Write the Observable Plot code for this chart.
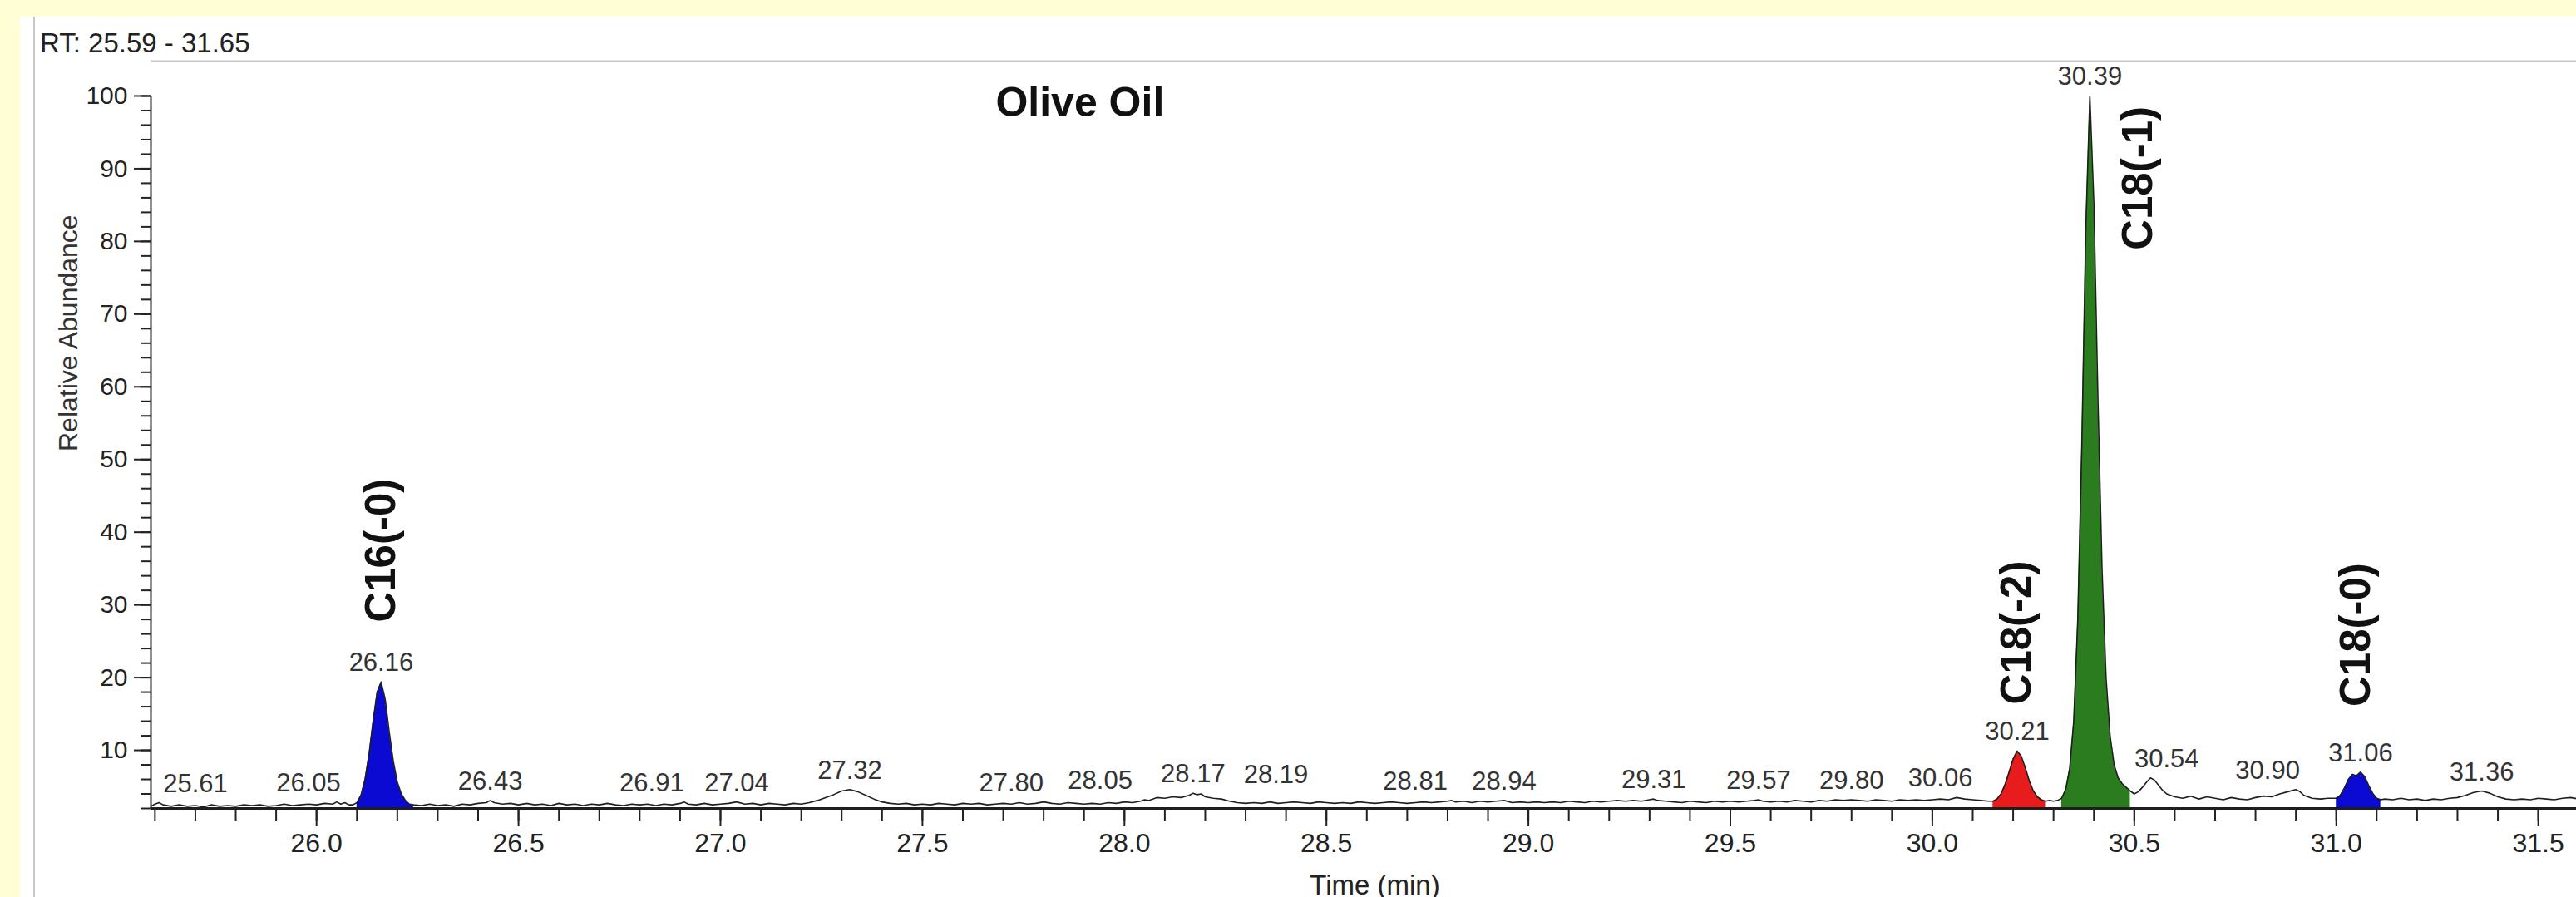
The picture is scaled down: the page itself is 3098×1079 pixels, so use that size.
<!DOCTYPE html>
<html>
<head>
<meta charset="utf-8">
<script src="https://cdn.jsdelivr.net/npm/d3@7"></script>
<script src="https://cdn.jsdelivr.net/npm/@observablehq/plot@0.6"></script>
<style>
  html, body { margin: 0; padding: 0; width: 3098px; height: 1079px; overflow: hidden; background: #fffed4; }
  #panel { position: absolute; left: 24px; top: 20px; right: 0; bottom: 0; background: #ffffff; }
  #panel .edge { position: absolute; left: 16px; top: 0; bottom: 0; border-left: 2px solid #c8c8c8; }
  #rt { position: absolute; left: 48px; top: 35px; font: 33px "Liberation Sans", Arial, sans-serif; line-height: 33px; color: #222; white-space: nowrap; }
  #chart { position: absolute; left: 0; top: 73px; }
</style>
</head>
<body>
<div id="panel"><div class="edge"></div></div>
<div id="rt">RT: 25.59 - 31.65</div>
<div id="chart"></div>
<script>
// Total ion chromatogram of the olive oil run: [retention time (min), relative abundance (%)]
const trace = [
  [25.59,2.3],[25.60,2.6],[25.61,2.8],[25.62,2.5],[25.64,2.3],[25.66,2.5],[25.68,2.3],[25.70,2.4],
  [25.72,2.2],[25.74,2.5],[25.76,2.3],[25.78,2.4],[25.80,2.3],[25.82,2.5],[25.84,2.4],[25.86,2.5],
  [25.88,2.3],[25.90,2.4],[25.92,2.6],[25.94,2.4],[25.96,2.5],[25.98,2.6],[26.00,2.5],[26.02,2.7],
  [26.04,2.6],[26.05,2.9],[26.06,2.6],[26.07,2.8],[26.08,2.5],[26.09,2.5],
  [26.10,2.8],[26.11,3.8],[26.12,6.0],[26.13,9.5],[26.14,14.0],[26.15,18.0],[26.16,19.4],[26.17,17.0],
  [26.18,12.5],[26.19,8.5],[26.20,5.6],[26.21,4.0],[26.22,3.1],[26.23,2.6],[26.24,2.5],
  [26.26,2.4],[26.28,2.6],[26.30,2.4],[26.32,2.5],[26.34,2.3],[26.36,2.6],[26.38,2.5],[26.40,2.7],
  [26.42,2.8],[26.43,3.1],[26.44,2.8],[26.46,2.6],[26.48,2.7],[26.50,2.5],[26.52,2.7],[26.54,2.5],
  [26.56,2.6],[26.58,2.4],[26.60,2.7],[26.62,2.5],[26.64,2.6],[26.66,2.4],[26.68,2.6],[26.70,2.5],
  [26.72,2.7],[26.74,2.5],[26.76,2.4],[26.78,2.6],[26.80,2.5],[26.82,2.6],[26.84,2.4],[26.86,2.6],
  [26.88,2.5],[26.90,2.7],[26.91,2.9],[26.92,2.6],[26.94,2.5],[26.96,2.7],[26.98,2.5],[27.00,2.6],
  [27.02,2.7],[27.04,2.9],[27.06,2.6],[27.08,2.7],[27.10,2.5],[27.12,2.7],[27.14,2.6],[27.16,2.5],
  [27.18,2.7],[27.20,2.6],[27.22,2.8],[27.24,3.1],[27.26,3.5],[27.28,3.9],[27.30,4.4],[27.32,4.6],
  [27.34,4.3],[27.36,3.8],[27.38,3.3],[27.40,2.9],[27.42,2.7],[27.44,2.6],[27.46,2.7],[27.48,2.5],
  [27.50,2.6],[27.52,2.5],[27.54,2.7],[27.56,2.6],[27.58,2.5],[27.60,2.7],[27.62,2.6],[27.64,2.7],
  [27.66,2.5],[27.68,2.6],[27.70,2.7],[27.72,2.6],[27.74,2.8],[27.76,2.6],[27.78,2.7],[27.80,2.9],
  [27.82,2.7],[27.84,2.6],[27.86,2.8],[27.88,2.7],[27.90,2.6],[27.92,2.7],[27.94,2.6],[27.96,2.8],
  [27.98,2.7],[28.00,2.9],[28.02,2.8],[28.04,3.0],[28.05,3.2],[28.06,3.1],[28.08,3.5],[28.10,3.4],
  [28.12,3.6],[28.14,3.5],[28.16,3.8],[28.17,4.1],[28.18,3.9],[28.19,4.0],[28.20,3.6],[28.22,3.4],
  [28.24,3.3],[28.26,3.0],[28.28,2.8],[28.30,2.7],[28.32,2.8],[28.34,2.7],[28.36,2.9],[28.38,2.7],
  [28.40,2.8],[28.42,2.9],[28.44,2.8],[28.46,2.7],[28.48,2.9],[28.50,2.8],[28.52,2.7],[28.54,2.8],
  [28.56,2.7],[28.58,2.9],[28.60,2.8],[28.62,2.7],[28.64,2.8],[28.66,2.9],[28.68,2.8],[28.70,2.7],
  [28.72,2.8],[28.74,2.9],[28.76,2.8],[28.78,2.9],[28.80,3.0],[28.81,3.1],[28.82,2.9],[28.84,3.0],
  [28.86,2.8],[28.88,3.0],[28.90,2.9],[28.92,3.0],[28.94,3.1],[28.96,2.8],[28.98,2.9],[29.00,2.8],
  [29.02,2.9],[29.04,2.8],[29.06,2.9],[29.08,2.8],[29.10,3.0],[29.12,2.9],[29.14,2.8],[29.16,3.0],
  [29.18,2.9],[29.20,3.0],[29.22,3.1],[29.24,3.0],[29.26,3.1],[29.28,3.0],[29.30,3.2],[29.31,3.3],
  [29.32,3.1],[29.34,3.0],[29.36,2.9],[29.38,2.8],[29.40,3.0],[29.42,2.9],[29.44,2.8],[29.46,3.0],
  [29.48,2.9],[29.50,3.0],[29.52,2.9],[29.54,3.0],[29.56,3.1],[29.57,3.2],[29.58,3.0],[29.60,2.9],
  [29.62,3.0],[29.64,2.9],[29.66,3.1],[29.68,3.0],[29.70,2.9],[29.72,3.1],[29.74,3.0],[29.76,3.2],
  [29.78,3.1],[29.80,3.2],[29.82,3.1],[29.84,3.0],[29.86,3.2],[29.88,3.1],[29.90,3.0],[29.92,3.2],
  [29.94,3.1],[29.96,3.2],[29.98,3.1],[30.00,3.2],[30.02,3.3],[30.04,3.2],[30.06,3.5],[30.08,3.3],
  [30.10,3.2],[30.12,3.1],[30.14,3.0],
  [30.15,3.0],[30.16,3.3],[30.17,4.0],[30.18,5.3],[30.19,7.0],[30.20,8.8],[30.21,9.9],[30.22,9.2],
  [30.23,7.6],[30.24,5.8],[30.25,4.4],[30.26,3.6],[30.27,3.2],[30.28,3.0],[30.29,3.1],[30.30,3.0],
  [30.31,3.1],[30.32,3.4],[30.33,4.6],[30.34,7.5],[30.35,14.0],[30.36,28.0],[30.37,52.0],[30.38,82.0],
  [30.39,100.0],[30.40,85.0],[30.41,58.0],[30.42,35.0],[30.43,20.0],[30.44,12.0],[30.45,8.0],[30.46,6.2],
  [30.47,5.4],[30.48,4.9],[30.49,4.4],[30.50,4.0],
  [30.51,4.3],[30.52,4.9],[30.53,5.6],[30.54,6.2],[30.55,5.9],[30.56,5.2],[30.57,4.5],[30.58,4.0],
  [30.60,3.6],[30.62,3.4],[30.64,3.7],[30.66,3.3],[30.68,3.6],[30.70,3.4],[30.72,3.2],[30.74,3.5],
  [30.76,3.3],[30.78,3.2],[30.80,3.5],[30.82,3.7],[30.84,3.6],[30.86,4.0],[30.88,4.3],[30.90,4.6],
  [30.91,4.3],[30.92,3.8],[30.94,3.4],[30.96,3.3],[30.98,3.4],
  [31.00,3.4],[31.01,3.8],[31.02,4.8],[31.03,6.0],[31.04,6.7],[31.05,6.5],[31.06,7.0],[31.07,6.4],
  [31.08,5.2],[31.09,4.1],[31.10,3.4],[31.11,3.2],
  [31.12,3.3],[31.14,3.2],[31.16,3.4],[31.18,3.2],[31.20,3.3],[31.22,3.1],[31.24,3.3],[31.26,3.2],
  [31.28,3.4],[31.30,3.5],[31.32,3.8],[31.34,4.2],[31.36,4.4],[31.38,4.1],[31.40,3.6],[31.42,3.3],
  [31.44,3.2],[31.46,3.3],[31.48,3.2],[31.50,3.4],[31.52,3.3],[31.54,3.2],[31.56,3.4],[31.58,3.5],
  [31.60,3.3],[31.62,3.6],[31.64,3.4],[31.65,3.5]
];

// Identified fatty acid peaks and their integration windows (min)
const peakNames = ["C16(-0)", "C18(-2)", "C18(-1)", "C18(-0)"];
const peakRT    = [26.16, 30.21, 30.39, 31.06];
const peakStart = [26.10, 30.15, 30.32, 31.00];
const peakEnd   = [26.24, 30.28, 30.49, 31.11];

// Retention times annotated on the trace
const labelledRT = [25.61, 26.05, 26.16, 26.43, 26.91, 27.04, 27.32, 27.80, 28.05, 28.17, 28.19,
                    28.81, 28.94, 29.31, 29.57, 29.80, 30.06, 30.21, 30.39, 30.54, 30.90, 31.06, 31.36];

// Axis ticks
const xMajorTicks = [26.0, 26.5, 27.0, 27.5, 28.0, 28.5, 29.0, 29.5, 30.0, 30.5, 31.0, 31.5];
const yMajorTicks = [10, 20, 30, 40, 50, 60, 70, 80, 90, 100];

const sampleName = "Olive Oil";
const rtRange = [25.59, 31.65];

// ---------------------------------------------------------------
const pts = trace.map(([t, y]) => ({t, y}));
const abundanceAt = new Map(pts.map(d => [d.t.toFixed(2), d.y]));

const fills = peakNames.flatMap((name, i) =>
  pts.filter(d => d.t >= peakStart[i] - 1e-9 && d.t <= peakEnd[i] + 1e-9).map(d => ({...d, name})));

// Label shifts (min) where the data-system moved a label clear of its neighbours
const labelShift = {"25.61": 0.09, "26.05": -0.07, "26.91": -0.08, "27.80": -0.08, "28.05": -0.11,
                    "28.19": 0.185, "28.81": -0.09, "30.06": -0.04, "30.54": 0.04, "30.90": -0.07};
const rtLabels = labelledRT.map(rt => {
  const key = rt.toFixed(2);
  return {x: rt + (labelShift[key] || 0), y: abundanceAt.get(key), text: key};
});

// Compound names: placed beside their peaks (x in min, y = abundance where the text starts)
const nameAnchors = [[26.16, 27.6], [30.21, 16.3], [30.51, 78.8], [31.05, 16.0]];
const names = peakNames.map((text, i) => ({text, x: nameAnchors[i][0], y: nameAnchors[i][1]}));

const yBase = 2, yTop = 104.8;
const font = "'Liberation Sans', Arial, sans-serif";

const chart = Plot.plot({
  width: 3125,
  height: 1006,
  marginLeft: 181,
  marginRight: 0,
  marginTop: 0,
  marginBottom: 107,
  x: {domain: rtRange},
  y: {domain: [yBase, yTop]},
  color: {domain: peakNames, range: ["#0a0ad2", "#e81c1c", "#2b7c1f", "#0a0ad2"]},
  style: {background: "transparent", maxWidth: "none", overflow: "visible", fontFamily: font, color: "#222"},
  marks: [
    Plot.ruleY([yTop], {stroke: "#c8c8c8", strokeWidth: 2}),
    Plot.areaY(fills, {x: "t", y: "y", y1: yBase, z: "name", fill: "name"}),
    Plot.line(pts, {x: "t", y: "y", stroke: "#1e1e1e", strokeWidth: 1.6}),
    // axes
    Plot.axisX({ticks: d3.range(256, 317).map(d => d / 10), tickSize: 15, tickFormat: () => "", label: null, strokeWidth: 2}),
    Plot.axisX({ticks: xMajorTicks, tickSize: 22, tickPadding: 8, tickFormat: d3.format(".1f"), fontSize: 32, label: null, strokeWidth: 2}),
    Plot.axisY({ticks: d3.range(2, 101, 2), tickSize: 12, tickFormat: () => "", label: null, strokeWidth: 2}),
    Plot.axisY({ticks: yMajorTicks, tickSize: 20, tickPadding: 8, fontSize: 30, label: null, strokeWidth: 2}),
    Plot.ruleY([yBase], {stroke: "#1e1e1e", strokeWidth: 3}),
    Plot.ruleX([rtRange[0]], {y1: yBase, y2: 100, stroke: "#1e1e1e", strokeWidth: 2}),
    // retention-time labels
    Plot.text(rtLabels, {x: "x", y: "y", text: "text", dy: -13, lineAnchor: "bottom", fontSize: 31, fill: "#333"}),
    // compound names
    Plot.text(names, {x: "x", y: "y", text: "text", rotate: -90, textAnchor: "start", lineAnchor: "middle",
                      fontSize: 51, fontWeight: "bold", fill: "#111"}),
    Plot.text([sampleName], {x: 27.89, y: 99, text: d => d, fontSize: 50, fontWeight: "bold", fill: "#111"}),
    // axis titles
    Plot.text(["Time (min)"], {frameAnchor: "bottom", lineAnchor: "top", dy: 80, fontSize: 33, fill: "#222"}),
    Plot.text(["Relative Abundance"], {frameAnchor: "left", rotate: -90, dx: -99, dy: 20, fontSize: 32, fill: "#333"})
  ]
});
document.getElementById("chart").append(chart);
</script>
</body>
</html>
